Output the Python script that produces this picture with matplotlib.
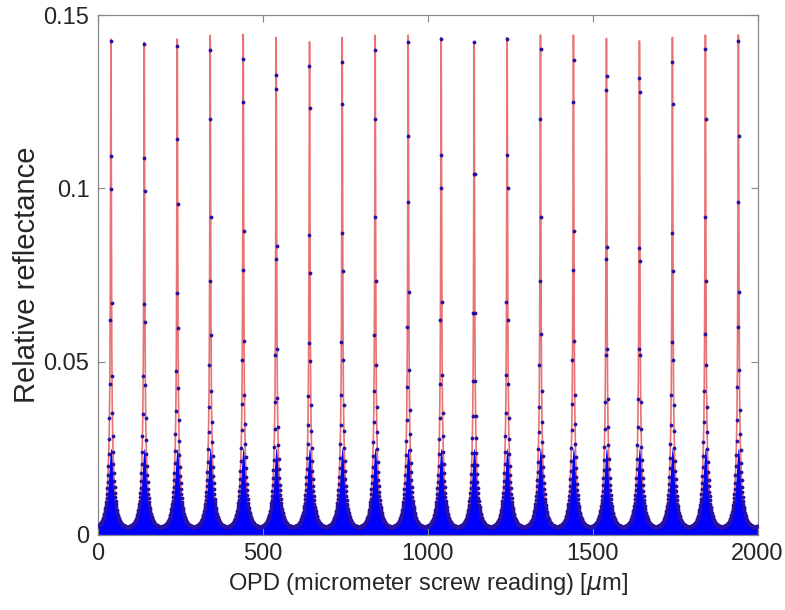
import numpy as np
import matplotlib
matplotlib.use('Agg')
from matplotlib import pyplot as plt

plt.rcParams['font.family'] = ['Liberation Sans', 'DejaVu Sans']

### Values
# fringe positions (OPD, um) and fringe peak reflectance
peak_pos = [40, 141, 241, 341, 441, 541, 642, 741, 841, 941,
            1041, 1141, 1241, 1342, 1442, 1542, 1642, 1742, 1842, 1942]
peak_height = [0.1431, 0.1421, 0.1431, 0.1442, 0.1445, 0.1436, 0.1423, 0.1436, 0.1442, 0.1442,
               0.1436, 0.1423, 0.1436, 0.1443, 0.1443, 0.1433, 0.1426, 0.1436, 0.1443, 0.1443]
fsr = 100.0          # fringe spacing, um
wing_height = 0.025  # height of the broad wing under each fringe
F_wing = 11.0        # finesse coefficient of the wing (min between fringes ~0.002)
F_core = 400.0       # finesse coefficient of the sharp core
step_meas = 1.1      # screw step between measured points, um

xticks = [0, 500, 1000, 1500, 2000]
yticks = [0, 0.05, 0.1, 0.15]

pos = np.array(peak_pos, dtype=float)
hgt = np.array(peak_height)


def fringes(x):
    # each point uses the nearest fringe's centre and height
    idx = np.abs(x[:, None] - pos[None, :]).argmin(axis=1)
    s2 = np.sin(np.pi * (x - pos[idx]) / fsr) ** 2
    wing = wing_height / (1 + F_wing * s2)
    core = (hgt[idx] - wing_height) / (1 + F_core * s2)
    return wing, wing + core


x_fit = np.linspace(0, 2000, 200001)
wing_fit, y_fit = fringes(x_fit)
x_meas = np.arange(0.3, 2000, step_meas)
y_meas = fringes(x_meas)[1]

fig = plt.figure(figsize=(7.85, 6.10), dpi=100)
ax = fig.add_axes([0.1245, 0.123, 0.8405, 0.852])

ax.fill_between(x_fit, 0, wing_fit, color='#0000ff', lw=0, zorder=1)
ax.plot(x_fit, y_fit, color='#e45a5a', lw=1.2, alpha=0.85, zorder=2)
ax.plot(x_meas, y_meas, '.', color='#2a12a0', ms=3.5, zorder=3)

ax.set_xlim(0, 2000)
ax.set_ylim(0, 0.15)
ax.set_xticks(xticks)
ax.set_yticks(yticks)
ax.set_xticklabels(['0', '500', '1000', '1500', '2000'])
ax.set_yticklabels(['0', '0.05', '0.1', '0.15'])
ax.tick_params(direction='in', top=True, right=True, length=5, width=0.8,
               colors='#888888', labelcolor='#262626', labelsize=17, pad=6)
for s in ax.spines.values():
    s.set_color('#888888')
    s.set_linewidth(0.9)

ax.set_xlabel(r'OPD (micrometer screw reading) [$\mu$m]', fontsize=17, color='#262626', labelpad=4)
ax.set_ylabel('Relative reflectance', fontsize=21, color='#262626', labelpad=2)

fig.savefig('out.png', dpi=100, facecolor='white')
